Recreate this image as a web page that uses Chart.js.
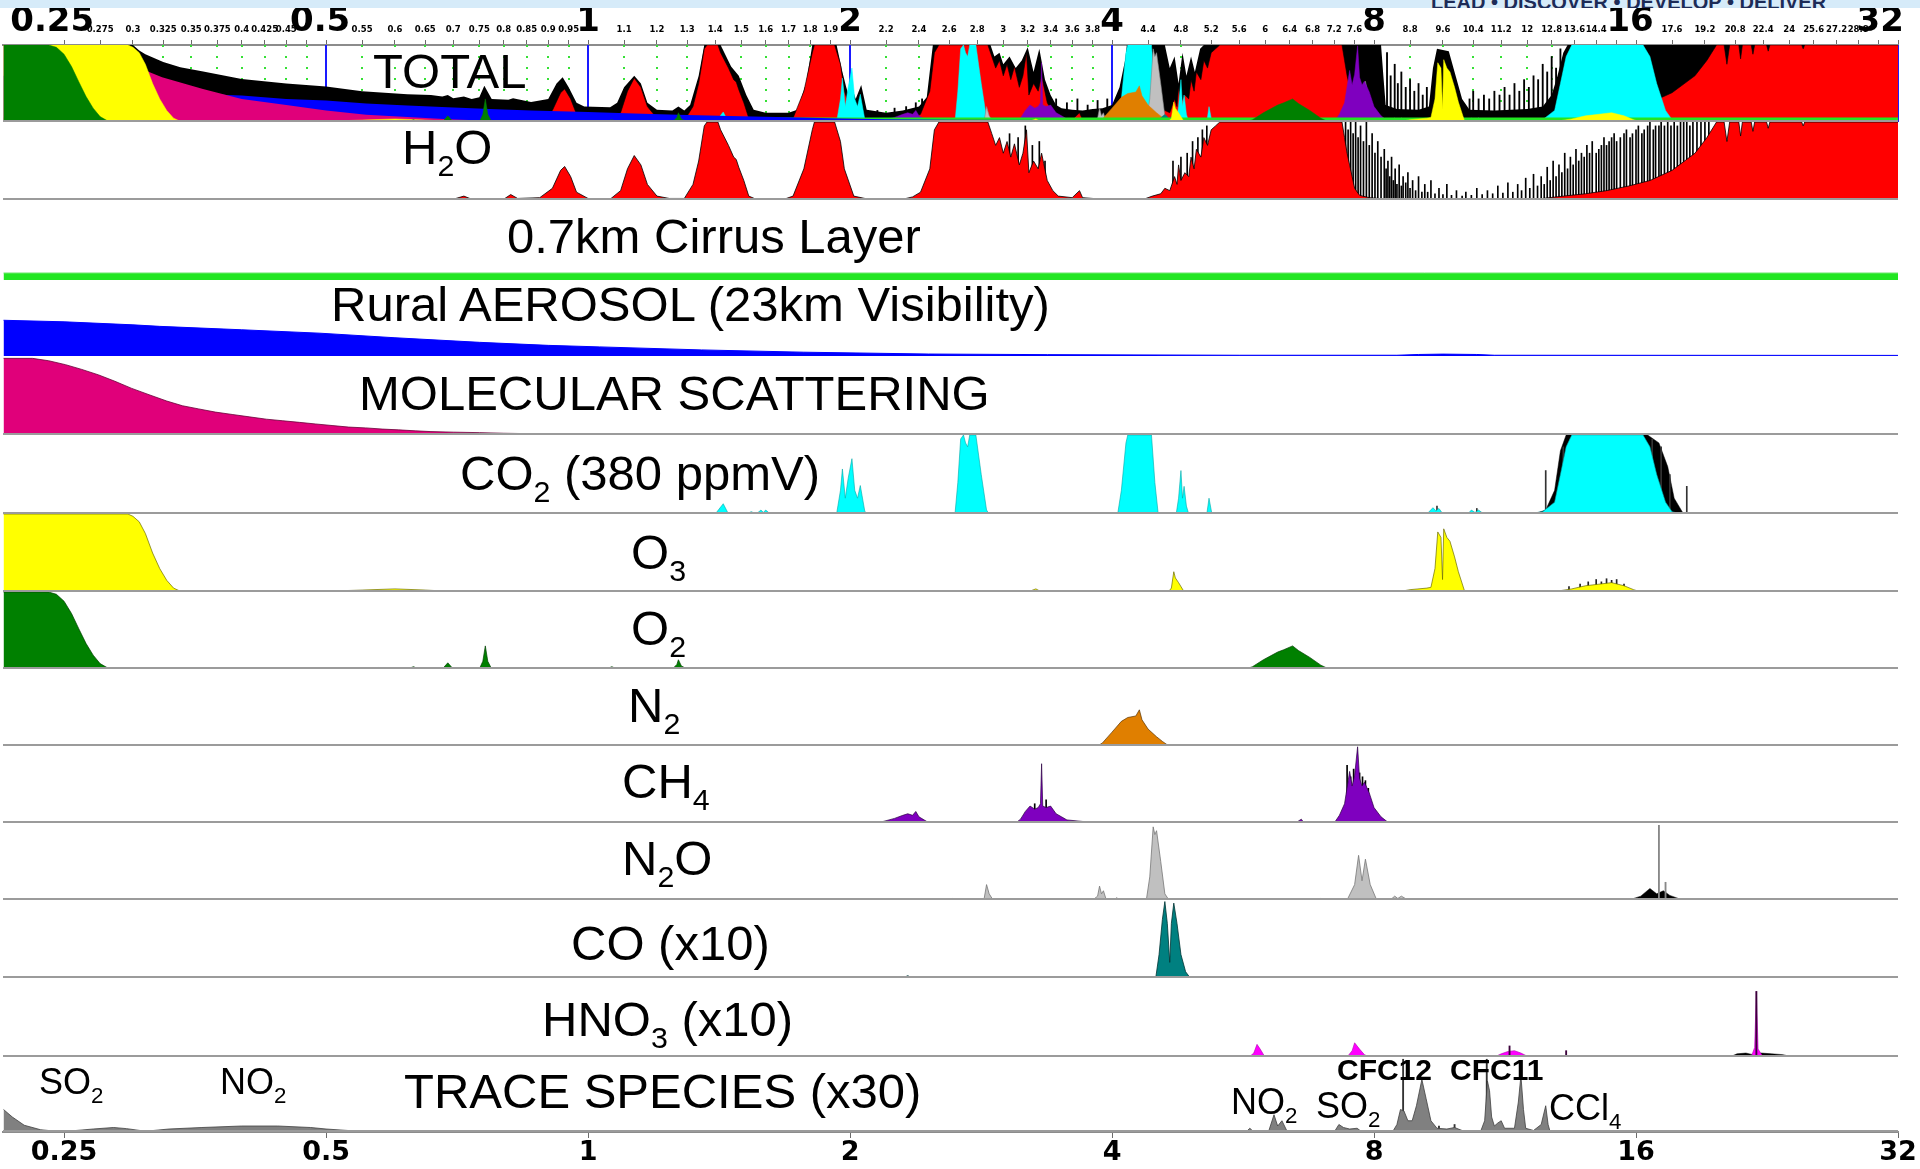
<!DOCTYPE html>
<html><head><meta charset="utf-8">
<script src="https://cdn.jsdelivr.net/npm/chart.js@4.4.1/dist/chart.umd.min.js"></script>
<style>
html,body{margin:0;padding:0;background:#fff;}
#wrap{position:relative;width:1920px;height:1169px;overflow:hidden;background:#fff;}
#wrap canvas{position:absolute;left:0;}
.lbl{position:absolute;font-family:'Liberation Sans',Arial,sans-serif;color:#000;white-space:nowrap;line-height:1;z-index:5;}
.lbl sub{font-size:0.62em;vertical-align:-0.4em;line-height:0;}
#band{position:absolute;left:0;top:0;width:1920px;height:8px;background:#d6ebf9;overflow:hidden;z-index:6;}
#band span{position:absolute;left:1431px;top:-9px;font:bold 20px 'Liberation Sans',Arial,sans-serif;color:#1d2b57;white-space:nowrap;}
</style></head>
<body><div id="wrap"><div id="band"><span>LEAD • DISCOVER • DEVELOP • DELIVER</span></div></div>
<script>
// ================= DATA (wavelength µm, relative absorption 0..1) =================
const topTickValues = [0.25,0.275,0.3,0.325,0.35,0.375,0.4,0.425,0.45,0.475,0.5,0.55,0.6,0.65,0.7,0.75,0.8,0.85,0.9,0.95,1,1.1,1.2,1.3,1.4,1.5,1.6,1.7,1.8,1.9,2,2.2,2.4,2.6,2.8,3,3.2,3.4,3.6,3.8,4,4.4,4.8,5.2,5.6,6,6.4,6.8,7.2,7.6,8,8.8,9.6,10.4,11.2,12,12.8,13.6,14.4,15.2,16,17.6,19.2,20.8,22.4,24,25.6,27.2,28.8,30.4,32];
const topTickLabels = ['0.25  ','0.275','0.3','0.325','0.35','0.375','0.4','0.425','0.45','','0.5 ','0.55','0.6','0.65','0.7','0.75','0.8','0.85','0.9','0.95','1','1.1','1.2','1.3','1.4','1.5','1.6','1.7','1.8','1.9','2','2.2','2.4','2.6','2.8','3','3.2','3.4','3.6','3.8','4','4.4','4.8','5.2','5.6','6','6.4','6.8','7.2','7.6','8','8.8','9.6','10.4','11.2','12','12.8','13.6','14.4','','16 ','17.6','19.2','20.8','22.4','24','25.6','27.2','28.8','','32   '];
const topMajorValues = [0.25,0.5,1,2,4,8,16,32];
const bottomTickValues = [0.25,0.5,1,2,4,8,16,32];
const bottomTickLabels = ['0.25','0.5','1','2','4','8','16','32'];

const h2o = [[0.213,0],[0.6,0],[0.7,0.01],[0.72,0.05],[0.735,0.01],[0.8,0.01],[0.815,0.07],[0.83,0.02],[0.88,0.03],[0.91,0.15],[0.93,0.38],[0.94,0.43],[0.955,0.3],[0.97,0.1],[1.0,0.02],[1.06,0.01],[1.09,0.12],[1.11,0.4],[1.13,0.57],[1.15,0.45],[1.17,0.2],[1.2,0.05],[1.24,0.02],[1.29,0.02],[1.32,0.2],[1.34,0.5],[1.36,0.95],[1.37,1],[1.41,1],[1.42,0.9],[1.45,0.7],[1.47,0.55],[1.48,0.52],[1.49,0.42],[1.51,0.25],[1.53,0.05],[1.56,0.01],[1.68,0.01],[1.72,0.05],[1.77,0.4],[1.81,0.9],[1.82,1],[1.92,1],[1.95,0.75],[1.97,0.4],[2.02,0.05],[2.1,0.01],[2.3,0.01],[2.36,0.04],[2.41,0.1],[2.47,0.4],[2.5,0.9],[2.53,1],[2.88,1],[2.91,0.85],[2.94,0.7],[2.97,0.8],[3.0,0.6],[3.03,0.75],[3.06,0.55],[3.09,0.72],[3.13,0.45],[3.16,0.6],[3.19,0.9],[3.21,0.35],[3.25,0.5],[3.29,0.4],[3.32,0.6],[3.37,0.25],[3.42,0.12],[3.47,0.05],[3.6,0.03],[3.67,0.12],[3.7,0.03],[3.9,0.01],[4.35,0.01],[4.45,0.05],[4.55,0.08],[4.6,0.15],[4.66,0.12],[4.72,0.3],[4.75,0.2],[4.77,0.45],[4.8,0.25],[4.85,0.35],[4.9,0.3],[4.93,0.55],[4.97,0.4],[5.0,0.65],[5.06,0.55],[5.1,0.8],[5.15,0.7],[5.2,0.9],[5.26,0.95],[5.32,1],[7.35,1],[7.4,0.8],[7.45,0.6],[7.5,0.45],[7.55,0.3],[7.6,0.15],[7.7,0.06],[7.9,0.03],[8.2,0.015],[9,0.01],[12,0.01],[12.5,0.02],[13.2,0.05],[14,0.08],[14.8,0.12],[15.7,0.18],[16.6,0.25],[17.6,0.38],[18.7,0.6],[19.3,0.8],[19.8,1],[20.2,1],[20.35,0.75],[20.5,1],[21.0,1],[21.1,0.82],[21.2,1],[21.7,1],[21.8,0.88],[21.9,1],[22.6,1],[22.7,0.92],[22.8,1],[24.8,1],[24.9,0.95],[25.0,1],[32,1]];
const h2oLines = [[3.05,0.85],[3.12,0.8],[3.18,0.95],[3.24,0.7],[3.3,0.75],[3.35,0.5],[4.7,0.5],[4.8,0.55],[4.88,0.6],[4.95,0.75],[5.02,0.8],[5.08,0.9],[5.14,0.95],[7.42,1],[7.47,0.9],[7.52,1],[7.57,0.85],[7.62,1],[7.67,0.8],[7.72,0.95],[7.78,0.75],[7.84,1],[7.9,0.7],[7.96,0.85],[8.02,0.6],[8.08,0.75],[8.15,0.55],[8.22,0.65],[8.26,0.4],[8.3,0.5],[8.34,0.3],[8.38,0.55],[8.42,0.25],[8.46,0.4],[8.5,0.2],[8.55,0.45],[8.6,0.18],[8.64,0.3],[8.7,0.22],[8.75,0.35],[8.8,0.15],[8.86,0.25],[8.93,0.12],[9.0,0.3],[9.08,0.1],[9.15,0.2],[9.22,0.1],[9.3,0.25],[9.4,0.08],[9.5,0.15],[9.6,0.07],[9.7,0.2],[9.82,0.06],[9.95,0.12],[10.1,0.05],[10.2,0.1],[10.35,0.06],[10.5,0.15],[10.65,0.07],[10.8,0.12],[10.95,0.08],[11.1,0.18],[11.25,0.09],[11.4,0.22],[11.55,0.1],[11.7,0.2],[11.82,0.12],[11.95,0.28],[12.08,0.15],[12.2,0.33],[12.33,0.18],[12.45,0.3],[12.55,0.2],[12.65,0.42],[12.75,0.25],[12.85,0.5],[12.95,0.3],[13.05,0.45],[13.15,0.35],[13.25,0.6],[13.35,0.4],[13.45,0.55],[13.55,0.45],[13.65,0.65],[13.75,0.5],[13.85,0.6],[13.95,0.55],[14.05,0.7],[14.15,0.6],[14.25,0.75],[14.4,0.6],[14.5,0.65],[14.6,0.7],[14.7,0.8],[14.8,0.7],[14.9,0.75],[15.0,0.8],[15.1,0.85],[15.2,0.75],[15.35,0.8],[15.5,0.85],[15.6,0.9],[15.75,0.8],[15.85,0.85],[16.0,0.9],[16.1,0.95],[16.25,0.85],[16.35,0.9],[16.5,0.95],[16.6,1],[16.75,0.9],[16.85,0.95],[17.0,0.95],[17.1,1],[17.25,0.95],[17.4,1],[17.55,0.95],[17.7,1],[17.85,0.95],[18.0,1],[18.15,1],[18.3,1],[18.45,0.95],[18.6,1],[18.8,1],[19.0,1],[19.2,1],[19.4,1]];
const cirrus = [[0.213,0.088],[32,0.088]];
const aerosol = [[0.213,0.47],[0.25,0.45],[0.3,0.41],[0.322,0.39],[0.4,0.345],[0.492,0.3],[0.6,0.24],[0.75,0.18],[0.9,0.14],[1.03,0.12],[1.35,0.08],[1.77,0.05],[2.46,0.026],[3.37,0.018],[5.6,0.01],[8.5,0.01],[9.0,0.02],[9.6,0.025],[10.5,0.02],[11,0.01],[32,0.008]];
const molecular = [[0.213,0.97],[0.23,0.97],[0.24,0.94],[0.251,0.89],[0.262,0.83],[0.274,0.76],[0.286,0.68],[0.299,0.59],[0.313,0.51],[0.328,0.43],[0.342,0.37],[0.357,0.33],[0.373,0.29],[0.39,0.26],[0.408,0.23],[0.427,0.2],[0.446,0.18],[0.466,0.16],[0.486,0.14],[0.508,0.12],[0.531,0.1],[0.555,0.09],[0.58,0.075],[0.606,0.065],[0.633,0.053],[0.66,0.043],[0.7,0.036],[0.75,0.03],[0.8,0.022],[0.9,0.013],[1.0,0.008],[1.2,0.005],[1.5,0.003],[1.55,0],[32,0]];
const co2 = [[0.213,0],[1.4,0],[1.43,0.13],[1.45,0],[1.52,0],[1.54,0.03],[1.56,0],[1.58,0.05],[1.59,0.02],[1.6,0.05],[1.62,0],[1.93,0],[1.95,0.3],[1.96,0.57],[1.975,0.2],[1.99,0.45],[2.01,0.7],[2.025,0.3],[2.04,0.2],[2.055,0.36],[2.08,0.03],[2.1,0],[2.64,0],[2.66,0.4],[2.68,0.95],[2.7,1],[2.715,0.9],[2.73,0.85],[2.745,1],[2.79,1],[2.83,0.5],[2.87,0.05],[2.89,0],[4.06,0],[4.1,0.3],[4.15,0.9],[4.17,1],[4.44,1],[4.48,0.4],[4.52,0],[4.74,0],[4.77,0.2],[4.8,0.55],[4.82,0.2],[4.84,0.35],[4.87,0.1],[4.9,0],[5.14,0],[5.17,0.2],[5.21,0],[9.2,0],[9.35,0.08],[9.42,0.04],[9.5,0.07],[9.6,0],[10.25,0],[10.35,0.05],[10.45,0.02],[10.55,0.05],[10.7,0],[12.0,0],[12.5,0.03],[12.9,0.15],[13.1,0.5],[13.3,0.85],[13.5,1],[16.3,1],[16.6,0.85],[16.9,0.5],[17.3,0.15],[17.6,0.03],[18.0,0],[32,0]];
const co2Wings = [[0.213,0],[12.2,0],[12.6,0.05],[12.9,0.3],[13.1,0.8],[13.3,1],[16.5,1],[17.0,0.9],[17.4,0.6],[17.7,0.2],[18.1,0.02],[18.5,0],[32,0]];
const co2Lines = [[9.45,0.1],[10.5,0.07],[12.6,0.55],[13.2,0.85],[13.45,0.95],[16.7,0.95],[17.1,0.85],[17.5,0.5],[18.3,0.35]];
const o3 = [[0.213,1],[0.296,1],[0.3,0.97],[0.305,0.9],[0.31,0.75],[0.316,0.5],[0.322,0.3],[0.328,0.15],[0.334,0.05],[0.34,0.01],[0.35,0],[0.45,0],[0.5,0.01],[0.55,0.025],[0.6,0.04],[0.65,0.025],[0.69,0.01],[0.72,0],[3.2,0],[3.27,0.04],[3.32,0],[4.64,0],[4.68,0.05],[4.71,0.26],[4.73,0.18],[4.77,0.12],[4.83,0.02],[4.86,0],[8.5,0],[8.8,0.03],[9.2,0.05],[9.3,0.06],[9.4,0.3],[9.47,0.77],[9.55,0.7],[9.59,0.16],[9.62,0.81],[9.7,0.7],[9.78,0.65],[9.9,0.45],[10.0,0.26],[10.16,0.02],[10.3,0],[12.8,0],[13.5,0.04],[14.0,0.08],[14.5,0.1],[15.0,0.12],[15.5,0.08],[15.9,0.03],[16.2,0],[32,0]];
const o3Lines = [[13.4,0.07],[13.8,0.1],[14.1,0.13],[14.4,0.16],[14.6,0.13],[14.8,0.17],[15.0,0.15],[15.2,0.16],[15.5,0.1]];
const o2 = [[0.213,1],[0.24,1],[0.245,0.97],[0.25,0.88],[0.255,0.72],[0.26,0.52],[0.265,0.33],[0.27,0.18],[0.275,0.07],[0.28,0.02],[0.285,0],[0.56,0],[0.575,0.02],[0.59,0],[0.62,0],[0.63,0.03],[0.64,0],[0.68,0],[0.69,0.08],[0.7,0],[0.75,0],[0.757,0.1],[0.762,0.3],[0.767,0.1],[0.775,0],[1.05,0],[1.065,0.03],[1.08,0],[1.25,0],[1.265,0.06],[1.27,0.12],[1.28,0.04],[1.3,0],[5.7,0],[5.8,0.03],[5.97,0.12],[6.2,0.22],[6.3,0.25],[6.45,0.3],[6.55,0.24],[6.75,0.15],[6.95,0.05],[7.1,0],[32,0]];
const n2 = [[0.213,0],[3.85,0],[3.9,0.04],[4.0,0.18],[4.1,0.32],[4.17,0.37],[4.26,0.39],[4.3,0.47],[4.33,0.34],[4.4,0.22],[4.5,0.12],[4.57,0.06],[4.65,0],[32,0]];
const ch4 = [[0.213,0],[1.64,0],[1.66,0.01],[1.68,0],[2.15,0],[2.2,0.03],[2.25,0.06],[2.3,0.1],[2.33,0.12],[2.36,0.1],[2.38,0.15],[2.4,0.08],[2.45,0.02],[2.5,0],[2.58,0],[2.6,0.01],[2.65,0],[3.1,0],[3.14,0.05],[3.18,0.15],[3.22,0.22],[3.26,0.18],[3.29,0.2],[3.31,0.25],[3.32,0.77],[3.33,0.22],[3.36,0.2],[3.4,0.22],[3.45,0.12],[3.5,0.08],[3.55,0.04],[3.7,0.02],[3.9,0.01],[4.0,0],[6.5,0],[6.6,0.05],[6.65,0],[7.2,0],[7.3,0.1],[7.4,0.25],[7.5,0.67],[7.55,0.48],[7.6,0.62],[7.66,0.99],[7.7,0.58],[7.75,0.48],[7.8,0.53],[7.9,0.39],[8.0,0.2],[8.15,0.08],[8.3,0.01],[8.4,0],[32,0]];
const ch4Lines = [[3.26,0.25],[3.36,0.3],[7.45,0.75],[7.52,0.6],[7.58,0.7],[7.63,0.55],[7.7,0.65],[7.76,0.6],[7.82,0.55],[7.88,0.45]];
const n2o = [[0.213,0],[2.6,0],[2.62,0.02],[2.65,0],[2.85,0],[2.87,0.2],[2.89,0.08],[2.92,0],[3.8,0],[3.85,0.05],[3.87,0.18],[3.89,0.08],[3.91,0.12],[3.94,0],[4.02,0],[4.05,0.03],[4.08,0],[4.38,0],[4.42,0.3],[4.46,0.95],[4.48,0.85],[4.5,0.9],[4.55,0.5],[4.6,0.08],[4.65,0],[6.9,0],[6.95,0.02],[7.0,0],[7.45,0],[7.6,0.2],[7.68,0.58],[7.75,0.25],[7.82,0.53],[7.92,0.2],[8.05,0.01],[8.35,0],[8.45,0.05],[8.52,0.02],[8.6,0.05],[8.75,0],[32,0]];
const n2oBlack = [[0.213,0],[15.7,0],[16.2,0.05],[16.6,0.15],[16.9,0.08],[17.2,0.12],[17.5,0.06],[18.0,0.01],[18.3,0],[32,0]];
const n2oLines = [[17.0,0.97],[17.3,0.23]];
const co = [[0.213,0],[2.3,0],[2.33,0.03],[2.36,0],[4.49,0],[4.53,0.3],[4.57,0.75],[4.6,0.98],[4.63,0.7],[4.66,0.2],[4.68,0.7],[4.71,0.96],[4.75,0.7],[4.8,0.3],[4.86,0.08],[4.92,0],[32,0]];
const hno3 = [[0.213,0],[5.75,0],[5.82,0.05],[5.87,0.16],[5.92,0.1],[5.98,0.02],[6.02,0],[7.45,0],[7.55,0.08],[7.6,0.18],[7.7,0.1],[7.8,0.03],[7.9,0],[11.0,0],[11.2,0.04],[11.4,0.07],[11.6,0.08],[11.8,0.05],[12.0,0.01],[12.1,0],[21.7,0],[21.9,0.12],[22.0,0.83],[22.1,0.1],[22.4,0],[32,0]];
const hno3Black = [[0.213,0],[20.5,0],[20.9,0.04],[21.4,0.05],[21.8,0.03],[22.3,0.05],[22.9,0.04],[23.6,0.03],[24.2,0],[32,0]];
const hno3Lines = [[11.45,0.14],[13.3,0.08],[22.0,0.83]];
const trace = [[0.213,0.3],[0.218,0.2],[0.225,0.09],[0.235,0.03],[0.245,0.01],[0.255,0.015],[0.27,0.04],[0.285,0.06],[0.295,0.045],[0.31,0.01],[0.33,0.04],[0.36,0.06],[0.4,0.08],[0.44,0.08],[0.48,0.06],[0.5,0.04],[0.53,0.02],[0.56,0.01],[0.58,0],[3.4,0],[3.42,0.01],[3.44,0],[5.3,0],[5.35,0.02],[5.4,0],[5.7,0],[5.76,0.05],[5.82,0],[6.05,0],[6.14,0.23],[6.2,0.08],[6.27,0.15],[6.35,0.02],[6.45,0],[7.2,0],[7.29,0.1],[7.38,0.06],[7.5,0.04],[7.65,0.05],[7.75,0],[8.4,0],[8.5,0.1],[8.58,0.3],[8.66,0.28],[8.75,0.15],[8.85,0.15],[8.95,0.35],[9.08,0.7],[9.18,0.45],[9.3,0.15],[9.45,0.05],[9.7,0.04],[9.9,0.06],[10.1,0.02],[10.3,0],[10.6,0],[10.72,0.15],[10.8,0.68],[10.86,0.55],[10.92,0.2],[11.0,0.08],[11.1,0.12],[11.2,0.15],[11.3,0.05],[11.6,0.05],[11.72,0.4],[11.8,0.75],[11.88,0.3],[11.95,0.05],[12.2,0.02],[12.45,0.1],[12.6,0.35],[12.68,0.1],[12.75,0],[19.5,0],[19.6,0.01],[19.7,0],[32,0]];
const traceLines = [[8.64,0.97],[9.5,0.08],[9.9,0.1],[10.78,0.97]];
// TOTAL panel layers
const totalBlack = [[0.213,1],[0.3,1],[0.305,0.93],[0.31,0.88],[0.325,0.78],[0.34,0.71],[0.36,0.66],[0.4,0.56],[0.45,0.5],[0.5,0.46],[0.55,0.4],[0.62,0.36],[0.66,0.35],[0.68,0.33],[0.69,0.35],[0.7,0.31],[0.72,0.33],[0.735,0.3],[0.75,0.32],[0.76,0.47],[0.775,0.3],[0.81,0.29],[0.82,0.31],[0.86,0.26],[0.88,0.28],[0.9,0.3],[0.92,0.5],[0.935,0.58],[0.95,0.45],[0.97,0.25],[0.99,0.2],[1.06,0.19],[1.08,0.25],[1.1,0.45],[1.13,0.6],[1.15,0.5],[1.17,0.25],[1.2,0.16],[1.25,0.15],[1.27,0.2],[1.29,0.15],[1.31,0.22],[1.34,0.6],[1.36,1],[1.42,1],[1.46,0.72],[1.49,0.6],[1.52,0.35],[1.55,0.16],[1.6,0.12],[1.7,0.12],[1.74,0.16],[1.78,0.5],[1.81,1],[1.93,1],[1.96,0.65],[1.98,0.45],[2.0,0.3],[2.01,0.45],[2.03,0.3],[2.06,0.48],[2.09,0.16],[2.2,0.12],[2.3,0.15],[2.4,0.2],[2.45,0.32],[2.49,1],[2.9,1],[2.93,0.85],[2.97,0.9],[3.0,0.75],[3.05,0.85],[3.1,0.7],[3.15,0.8],[3.2,0.97],[3.25,0.65],[3.3,0.95],[3.35,0.55],[3.4,0.35],[3.45,0.22],[3.5,0.18],[3.6,0.16],[3.7,0.15],[3.8,0.17],[3.9,0.18],[4.0,0.22],[4.08,0.45],[4.14,0.8],[4.16,1],[4.6,1],[4.66,0.7],[4.72,0.85],[4.77,0.5],[4.82,0.9],[4.87,0.6],[4.93,0.85],[4.98,0.65],[5.05,0.95],[5.1,1],[8.15,1],[8.2,0.6],[8.25,0.22],[8.5,0.17],[9.0,0.16],[9.25,0.2],[9.35,0.7],[9.45,0.95],[9.75,0.92],[9.9,0.65],[10.1,0.3],[10.3,0.16],[11,0.15],[12,0.17],[12.5,0.2],[12.8,0.35],[13.0,0.6],[13.2,0.9],[13.35,1],[32,1]];
const totalLines = [[2.15,0.15],[2.25,0.18],[2.32,0.2],[2.38,0.25],[2.42,0.3],[3.45,0.3],[3.55,0.25],[3.65,0.3],[3.75,0.22],[3.85,0.28],[3.95,0.3],[8.28,0.9],[8.36,0.6],[8.45,0.75],[8.52,0.5],[8.6,0.65],[8.7,0.45],[8.8,0.55],[8.9,0.4],[9.0,0.5],[9.1,0.35],[9.2,0.45],[10.3,0.3],[10.4,0.4],[10.55,0.3],[10.7,0.35],[10.85,0.3],[11.0,0.4],[11.15,0.35],[11.3,0.45],[11.45,0.35],[11.6,0.5],[11.75,0.4],[11.9,0.55],[12.05,0.45],[12.2,0.6],[12.35,0.55],[12.5,0.75],[12.65,0.65],[12.8,0.85],[12.95,0.7],[13.1,0.95]];
const totalBlue = [[0.213,0.6],[0.3,0.5],[0.35,0.4],[0.384,0.35],[0.4,0.345],[0.45,0.3],[0.5,0.28],[0.556,0.24],[0.62,0.215],[0.69,0.19],[0.77,0.17],[0.86,0.15],[1.0,0.13],[1.13,0.11],[1.3,0.09],[1.5,0.075],[1.75,0.06],[1.96,0.045],[2.2,0.035],[2.6,0.03],[3.5,0.025],[6,0.02],[32,0.015]];
const totalMagenta = [[0.213,1],[0.29,0.85],[0.31,0.67],[0.324,0.58],[0.361,0.43],[0.4,0.3],[0.45,0.22],[0.5,0.15],[0.556,0.095],[0.62,0.065],[0.69,0.035],[0.77,0.017],[0.95,0.005],[1.1,0],[32,0]];
const totalCirrus = [[0.213,0.06],[32,0.06]];
const CO_SCALE = 10; // CO panel is drawn x10

// ================= CHART SETUP =================
const X_MIN = 0.2127, X_MAX = 32;
const AXIS_FONT = "'DejaVu Sans', Verdana, sans-serif";
const wrap = document.getElementById('wrap');
const pts = a => a.map(p => ({x: p[0], y: p[1]}));

function area(data, fill, line, lw, order) {
  return {type: 'line', data: pts(data), backgroundColor: fill, borderColor: line || fill,
    borderWidth: lw === undefined ? 1 : lw, fill: 'origin', pointRadius: 0, pointHoverRadius: 0,
    tension: 0, order: order};
}
function spikes(data, color, order, w) {
  return {type: 'bar', data: pts(data), backgroundColor: color, borderWidth: 0,
    barThickness: w || 1, grouped: false, order: order};
}

const dotGrid = {
  id: 'dotGrid',
  beforeDatasetsDraw(chart, args, opts) {
    if (!opts || !opts.enabled) return;
    const {ctx, chartArea: a} = chart; const x = chart.scales.x;
    ctx.save();
    ctx.lineWidth = 2; ctx.strokeStyle = '#35e035'; ctx.setLineDash([2, 9]);
    topTickValues.forEach(v => {
      if (topMajorValues.includes(v)) return;
      const px = Math.round(x.getPixelForValue(v));
      ctx.beginPath(); ctx.moveTo(px, a.top); ctx.lineTo(px, a.bottom); ctx.stroke();
    });
    ctx.setLineDash([]); ctx.strokeStyle = '#1a1aff';
    topMajorValues.forEach(v => {
      const px = Math.round(x.getPixelForValue(v));
      ctx.beginPath(); ctx.moveTo(px, a.top); ctx.lineTo(px, a.bottom); ctx.stroke();
    });
    ctx.restore();
  }
};
const baseLine = {
  id: 'baseLine',
  afterDatasetsDraw(chart, args, opts) {
    if (!opts || !opts.color) return;
    const {ctx, chartArea: a} = chart;
    const y0 = chart.scales.y.getPixelForValue(0) - 1;
    ctx.save(); ctx.strokeStyle = opts.color; ctx.lineWidth = 2;
    ctx.beginPath(); ctx.moveTo(a.left, y0); ctx.lineTo(a.right, y0); ctx.stroke(); ctx.restore();
  }
};

function makePanel(top, height, datasets, opts) {
  opts = opts || {};
  const c = document.createElement('canvas');
  c.width = 1920; c.height = height;
  c.style.top = top + 'px'; c.style.width = '1920px'; c.style.height = height + 'px';
  wrap.appendChild(c);
  const xScale = {type: 'logarithmic', min: X_MIN, max: X_MAX, display: false, offset: false,
    grid: {offset: false}};
  if (opts.axis === 'top') {
    Object.assign(xScale, {
      display: true, position: 'top',
      afterBuildTicks: s => { s.ticks = topTickValues.map(v => ({value: v, major: topMajorValues.includes(v)})); },
      afterFit: s => { s.height = 45; s.paddingLeft = 0; s.paddingRight = 0; },
      border: {display: true, color: '#8c8c8c', width: 2},
      grid: {display: true, offset: false, drawOnChartArea: false, drawTicks: true, tickLength: 5, tickColor: '#6a6a6a', tickWidth: 1},
      ticks: {autoSkip: false, maxRotation: 0, minRotation: 0, color: '#000', padding: 1,
        callback: (v, i) => topTickLabels[i],
        font: c2 => (c2.tick && c2.tick.major)
          ? {family: AXIS_FONT, size: 34, weight: 'bold', lineHeight: 1}
          : {family: AXIS_FONT, size: 8.5, weight: 'bold', lineHeight: 2.2}}
    });
  } else if (opts.axis === 'bottom') {
    Object.assign(xScale, {
      display: true, position: 'bottom',
      afterBuildTicks: s => { s.ticks = bottomTickValues.map(v => ({value: v, major: true})); },
      afterFit: s => { s.height = 37; s.paddingLeft = 0; s.paddingRight = 0; },
      border: {display: true, color: '#8c8c8c', width: 2},
      grid: {display: true, offset: false, drawOnChartArea: false, drawTicks: true, tickLength: 6, tickColor: '#6a6a6a', tickWidth: 1},
      ticks: {autoSkip: false, maxRotation: 0, minRotation: 0, color: '#000', padding: 1,
        callback: (v, i) => bottomTickLabels[i],
        font: {family: AXIS_FONT, size: 27, weight: 'bold', lineHeight: 1}}
    });
  }
  return new Chart(c, {
    type: 'line',
    data: {datasets: datasets},
    options: {
      responsive: false, animation: false, devicePixelRatio: 1, events: [],
      layout: {padding: {left: 3, right: 22, top: 0, bottom: 0}},
      scales: {x: xScale, y: {type: 'linear', min: 0, max: 1, display: false}},
      plugins: {legend: {display: false}, tooltip: {enabled: false},
        dotGrid: {enabled: !!opts.grid}, baseLine: {color: opts.base === undefined ? '#9b9b9b' : opts.base}}
    },
    plugins: [dotGrid, baseLine]
  });
}

const RED = '#ff0000', CYAN = '#00ffff', YEL = '#ffff00', GRN = '#008000', ORG = '#e07f00',
  PUR = '#7f00bf', GRY = '#c0c0c0', TEAL = '#008080', MAG = '#ff00ff', TRC = '#808080',
  MOL = '#e0007a', BLU = '#0000ff', LIM = '#22e622';

// TOTAL
makePanel(0, 122, [
  area(totalBlack, '#000', '#000', 0, 30),
  spikes(totalLines, '#000', 29, 1.2),
  area(h2o, RED, '#000', 0.6, 28),
  area(co2, CYAN, CYAN, 0.5, 27),
  area(n2o, GRY, '#888', 0.6, 26),
  area(ch4, PUR, PUR, 0.5, 25),
  area(n2, ORG, ORG, 0.5, 24),
  area(co.map(p => [p[0], p[1] / CO_SCALE]), TEAL, TEAL, 0.5, 23),
  area(totalCirrus, LIM, LIM, 0, 22),
  area(totalBlue, BLU, BLU, 0, 21),
  area(totalMagenta, MOL, MOL, 0, 20),
  area(o3, YEL, YEL, 0.5, 19),
  area(o2, GRN, GRN, 0.5, 18)
], {axis: 'top', grid: true});
// H2O
makePanel(122, 78, [spikes(h2oLines, '#000', 2, 1), area(h2o, RED, '#000', 0.8, 1)]);
// Cirrus
makePanel(200, 80, [area(cirrus, LIM, '#7be87b', 1, 1)], {base: null});
// Aerosol
makePanel(280, 76, [area(aerosol, BLU, BLU, 1, 1)], {base: null});
// Molecular
makePanel(356, 79, [area(molecular, MOL, '#6a0038', 0.8, 1)]);
// CO2
makePanel(435, 79, [area(co2Wings, '#000', '#000', 0.5, 3), spikes(co2Lines, '#333', 2, 1), area(co2, CYAN, '#00a8a8', 0.6, 1)]);
// O3
makePanel(514, 78, [spikes(o3Lines, '#222', 2, 1), area(o3, YEL, '#6b6b00', 0.7, 1)]);
// O2
makePanel(592, 77, [area(o2, GRN, '#004000', 0.7, 1)]);
// N2
makePanel(669, 77, [area(n2, ORG, '#5a3300', 0.7, 1)]);
// CH4
makePanel(746, 77, [spikes(ch4Lines, '#000', 2, 1), area(ch4, PUR, '#2a0040', 0.7, 1)]);
// N2O
makePanel(823, 77, [area(n2oBlack, '#000', '#000', 0.5, 3), area(n2o, GRY, '#777', 0.8, 2), spikes(n2oLines, '#888', 1, 1.2)]);
// CO
makePanel(900, 78, [area(co, TEAL, '#003333', 0.8, 1)]);
// HNO3
makePanel(978, 79, [area(hno3Black, '#000', '#000', 0.5, 3), area(hno3, MAG, '#b000b0', 0.6, 2), spikes(hno3Lines, '#3a003a', 1, 1.2)]);
// TRACE
makePanel(1057, 112, [spikes(traceLines, '#333', 2, 1.2), area(trace, TRC, '#404040', 0.8, 1)], {axis: 'bottom'});

// ================= TEXT LABELS =================
const labels = [
  ['TOTAL', 373, 88, 49, ''],
  ['H<sub>2</sub>O', 402, 164, 49, ''],
  ['0.7km Cirrus Layer', 507, 253, 49, ''],
  ['Rural AEROSOL (23km Visibility)', 331, 321, 49, ''],
  ['MOLECULAR SCATTERING', 359, 410, 49, ''],
  ['CO<sub>2</sub> (380 ppmV)', 460, 490, 49, ''],
  ['O<sub>3</sub>', 631, 569, 49, ''],
  ['O<sub>2</sub>', 631, 645, 49, ''],
  ['N<sub>2</sub>', 628, 722, 49, ''],
  ['CH<sub>4</sub>', 622, 798, 49, ''],
  ['N<sub>2</sub>O', 622, 875, 49, ''],
  ['CO (x10)', 571, 960, 49, ''],
  ['HNO<sub>3</sub> (x10)', 542, 1036, 49, ''],
  ['TRACE SPECIES (x30)', 404, 1108, 49, ''],
  ['SO<sub>2</sub>', 39, 1094, 36, ''],
  ['NO<sub>2</sub>', 220, 1094, 36, ''],
  ['NO<sub>2</sub>', 1231, 1114, 36, ''],
  ['SO<sub>2</sub>', 1316, 1118, 36, ''],
  ['CCl<sub>4</sub>', 1549, 1120, 36, ''],
  ['CFC12', 1337, 1080, 30, 'bold'],
  ['CFC11', 1450, 1080, 30, 'bold']
];
labels.forEach(([html, x, base, size, weight]) => {
  const d = document.createElement('div');
  d.className = 'lbl'; d.innerHTML = html;
  d.style.left = x + 'px'; d.style.fontSize = size + 'px';
  if (weight) d.style.fontWeight = weight;
  d.style.top = (base - 0.8465 * size) + 'px';
  wrap.appendChild(d);
});
</script>
</body></html>
